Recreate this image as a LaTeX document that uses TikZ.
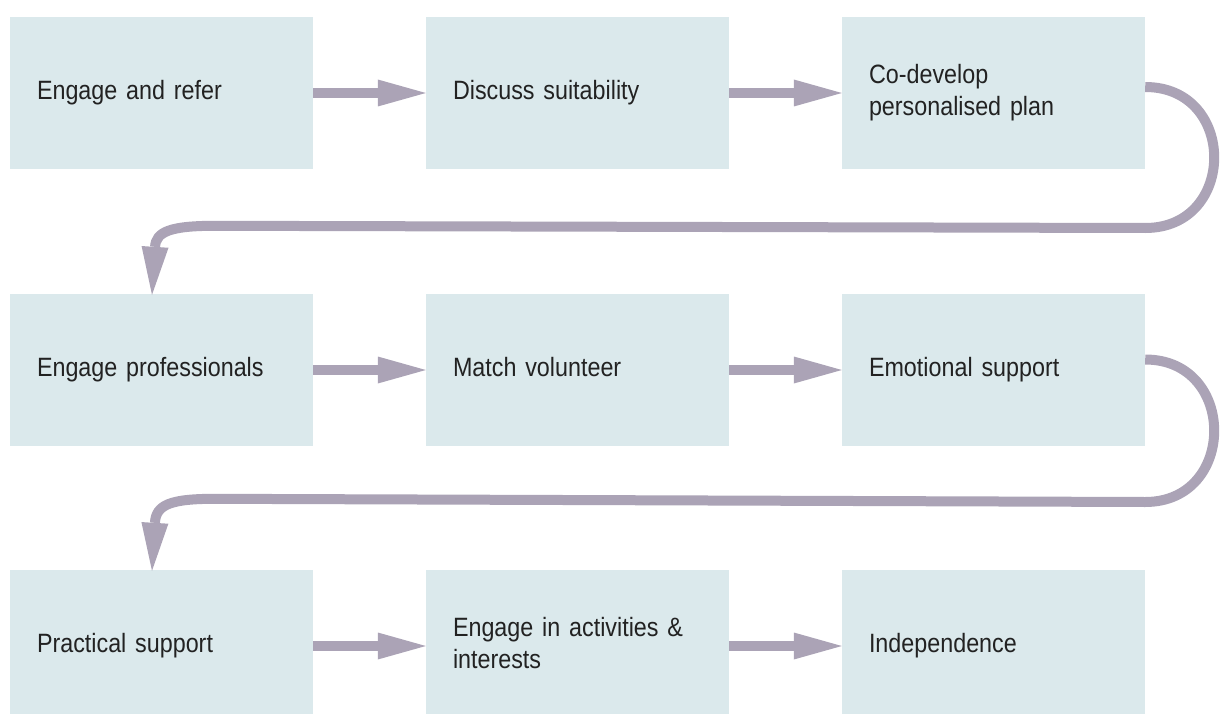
\documentclass[tikz,border=0pt]{standalone}
\usepackage{fontspec}
\setmainfont{Liberation Sans}[FakeStretch=0.88,WordSpace=0.85]
\usetikzlibrary{arrows.meta,calc}

\definecolor{boxfill}{HTML}{DBE9EC}
\definecolor{flowcol}{HTML}{ABA3B6}
\definecolor{textcol}{HTML}{222222}

\tikzset{
  stepbox/.style={fill=boxfill, draw=none, rectangle,
    minimum width=303pt, minimum height=152pt,
    text width=249pt, inner xsep=27pt, inner ysep=0pt, align=left,
    font=\fontsize{26.5}{32}\selectfont, text=textcol,
    execute at begin node=\strut, execute at end node=\strut},
  flow/.style={draw=flowcol, line width=10pt,
    -{Triangle[length=48pt,width=27pt,line width=0pt]}},
}

\begin{document}
\begin{tikzpicture}[x=1pt,y=-1pt]
  \clip (0,0) rectangle (1220,714);

  % three rows of steps
  \node[stepbox] (b1) at (161.5,93)  {Engage and refer};
  \node[stepbox] (b2) at (577.5,93)  {Discuss suitability};
  \node[stepbox] (b3) at (993.5,93)  {Co-develop\\personalised plan};

  \node[stepbox] (b4) at (161.5,370) {Engage professionals};
  \node[stepbox] (b5) at (577.5,370) {Match volunteer};
  \node[stepbox] (b6) at (993.5,370) {Emotional support};

  \node[stepbox] (b7) at (161.5,646) {Practical support};
  \node[stepbox] (b8) at (577.5,646) {Engage in activities \&\\interests};
  \node[stepbox] (b9) at (993.5,646) {Independence};

  % straight arrows within each row
  \draw[flow] (b1.east) -- (b2.west);
  \draw[flow] (b2.east) -- (b3.west);
  \draw[flow] (b4.east) -- (b5.west);
  \draw[flow] (b5.east) -- (b6.west);
  \draw[flow] (b7.east) -- (b8.west);
  \draw[flow] (b8.east) -- (b9.west);

  % return arrows wrapping from the end of one row to the start of the next
  \draw[flow] ($(b3.east)+(0,-6)$) .. controls +(92,0) and +(92,0) ..
    ($(b3.east)+(0,135)$) -- ($(b4.north)+(53.5,-68)$)
    .. controls ($(b4.north)+(8.5,-68)$) and ($(b4.north)+(-5.5,-62)$) ..
    ($(b4.north)+(-9.5,1)$);

  \draw[flow] ($(b6.east)+(0,-10.5)$) .. controls +(92,0) and +(92,0) ..
    ($(b6.east)+(0,132)$) -- ($(b7.north)+(53.5,-71)$)
    .. controls ($(b7.north)+(8.5,-71)$) and ($(b7.north)+(-5.5,-65)$) ..
    ($(b7.north)+(-9.5,1)$);
\end{tikzpicture}
\end{document}
